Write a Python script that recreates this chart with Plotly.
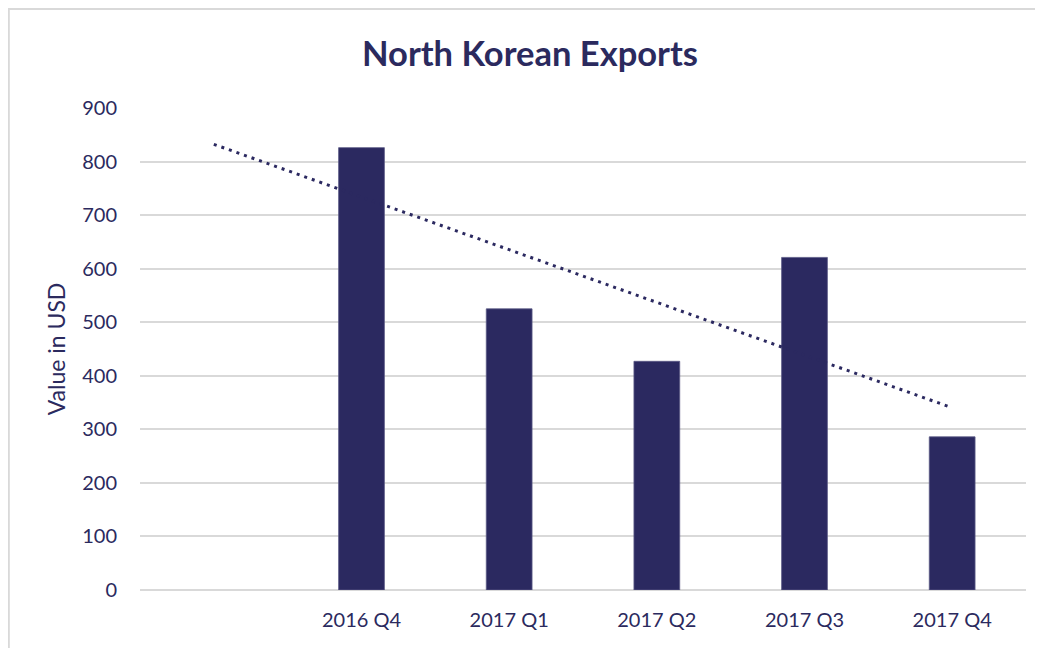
import numpy as np
import plotly.graph_objects as go

# Dados
quarters = [" ", "2016 Q4", "2017 Q1", "2017 Q2", "2017 Q3", "2017 Q4"]
exports = [None, 826, 525, 427, 621, 286]

NAVY = "#2b2960"
TEXT = "#2b2a5e"
FONT = "Lato"

# Linha de tendência linear (ajuste sobre os trimestres com dado, estendida 1 período para trás)
idx = np.array([i for i, v in enumerate(exports) if v is not None], dtype=float)
vals = np.array([v for v in exports if v is not None], dtype=float)
slope, intercept = np.polyfit(idx, vals, 1)
trend_x = [quarters[0], quarters[-1]]
trend_y = [intercept + slope * 0, intercept + slope * (len(quarters) - 1)]

fig = go.Figure()

fig.add_trace(go.Bar(
    x=quarters,
    y=exports,
    width=0.31,
    marker=dict(color=NAVY, line=dict(color="#5a5985", width=0.8)),
    showlegend=False,
    hoverinfo="x+y"
))

fig.add_trace(go.Scatter(
    x=trend_x,
    y=trend_y,
    mode="lines",
    line=dict(color=NAVY, width=3, dash="3px,5px"),
    showlegend=False,
    hoverinfo="skip"
))

# a página tem 8px de margem no body: posições abaixo já compensadas
fig.update_layout(
    width=1043,
    height=648,
    paper_bgcolor="white",
    plot_bgcolor="white",
    margin=dict(l=132, r=25, t=100, b=66),
    font=dict(family=FONT, color=TEXT),
    title=dict(
        text="<b>North Korean Exports</b>",
        font=dict(size=34.5, color=TEXT, family=FONT),
        x=522 / 1043,
        xanchor="center",
        y=1 - 46 / 648,
        yanchor="middle"
    ),
    xaxis=dict(
        type="category",
        categoryorder="array",
        categoryarray=quarters,
        showgrid=False,
        showline=False,
        zeroline=False,
        ticks="",
        tickfont=dict(size=20, color=TEXT),
        ticklabelstandoff=16,
        fixedrange=True
    ),
    yaxis=dict(
        range=[0, 900],
        dtick=100,
        showgrid=True,
        gridcolor="#d9d9d9",
        gridwidth=1.5,
        zeroline=True,
        zerolinecolor="#d9d9d9",
        zerolinewidth=1.5,
        showline=False,
        ticks="",
        tickfont=dict(size=20, color=TEXT),
        ticklabelstandoff=22,
        title=dict(text="Value in USD", font=dict(size=23, color=TEXT), standoff=10),
        fixedrange=True
    ),
    shapes=[dict(
        type="rect",
        xref="paper", yref="paper",
        x0=(0.8 - 132) / 886, x1=(1100 - 132) / 886,
        y0=(582 - 700) / 482, y1=(582 - 1) / 482,
        line=dict(color="#d9d9d9", width=2),
        fillcolor="rgba(0,0,0,0)",
        layer="below"
    )]
)

fig.write_html("out.html")
